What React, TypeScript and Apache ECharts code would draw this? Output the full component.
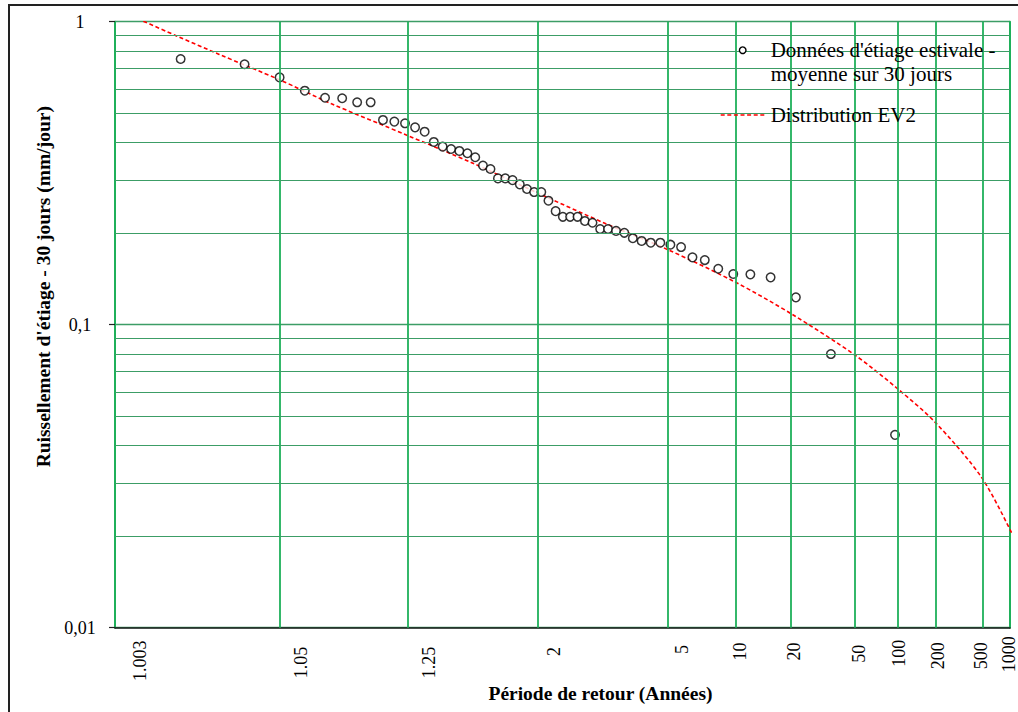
import React, { useEffect, useRef } from "react";
import * as echarts from "echarts";

// ---------- data ----------
// Observed summer low flows (30-day mean) with their plotted return periods (years)
const returnPeriods = [
  1.0105, 1.0297, 1.0497, 1.0704, 1.092, 1.1145, 1.1379, 1.1624, 1.1879, 1.2145,
  1.2424, 1.2716, 1.3022, 1.3343, 1.3681, 1.4035, 1.4409, 1.4803, 1.5219, 1.566,
  1.6126, 1.6622, 1.7148, 1.7709, 1.8309, 1.895, 1.9637, 2.0377, 2.1174, 2.2036,
  2.2971, 2.3989, 2.5102, 2.6323, 2.7669, 2.916, 3.082, 3.2681, 3.4782, 3.717,
  3.9912, 4.3089, 4.6817, 5.125, 5.6611, 6.3224, 7.1587, 8.25, 9.7338, 11.868,
  15.202, 21.141, 34.692, 96.643,
];
const flows = [
  0.753, 0.7235, 0.655, 0.592, 0.561, 0.559, 0.542, 0.542, 0.474, 0.468,
  0.462, 0.448, 0.4335, 0.401, 0.387, 0.38, 0.3745, 0.368, 0.357, 0.335,
  0.3265, 0.304, 0.304, 0.3, 0.2905, 0.2805, 0.274, 0.274, 0.2566, 0.237,
  0.227, 0.227, 0.227, 0.22, 0.217, 0.207, 0.207, 0.204, 0.201, 0.193,
  0.189, 0.1865, 0.1865, 0.1837, 0.1804, 0.1668, 0.1634, 0.153, 0.147, 0.1466,
  0.1433, 0.1231, 0.08, 0.0433,
];
// EV2 fitted distribution
const curveT = [1.003, 1.01, 1.02, 1.05, 1.1, 1.25, 1.5, 2, 3, 5, 10, 20, 50, 100, 200, 500, 1000];
const curveQ = [1.111, 0.894, 0.78, 0.642, 0.536, 0.421, 0.343, 0.272, 0.2166, 0.177, 0.138, 0.1084, 0.0794, 0.0617, 0.0475, 0.0311, 0.0195];

// axis ticks
const gridT = [1.05, 1.25, 2, 5, 10, 20, 50, 100, 200, 500];
const tickLabelT = [1.003, 1.05, 1.25, 2, 5, 10, 20, 50, 100, 200, 500, 1000];
const tickLabels = ["1.003", "1.05", "1.25", "2", "5", "10", "20", "50", "100", "200", "500", "1000"];
const yMinor = [0.02, 0.03, 0.04, 0.05, 0.06, 0.07, 0.08, 0.09, 0.2, 0.3, 0.4, 0.5, 0.6, 0.7, 0.8, 0.9];

const S1_LINES = ["Données d'étiage estivale -", "moyenne sur 30 jours"];
const S1 = S1_LINES.join("\n");
const S2 = "Distribution EV2";

// ---------- style constants ----------
const FONT = '"Liberation Serif", "Times New Roman", serif';
const V_GREEN = "#1fb05a";
const H_GREEN = "#3c9d66";
const RED = "#ff0000";
const X_MIN = -2.737; // probit-scale extent of the plot area
const X_MAX = 3.058;
const labelDx = [26.7, 21, 21.7, 16, 14, 4.7, 2.3, 3.7, 2.3, 2.8, -1.7, -6];
const labelDy = [33.1, 34.8, 34.8, 23.8, 21.7, 23.8, 23.8, 26.1, 25.6, 28.1, 28.1, 26.5];

// inverse standard normal CDF (probability paper transform)
function probit(p: number): number {
  const a = [-39.69683028665376, 220.9460984245205, -275.9285104469687, 138.357751867269, -30.66479806614716, 2.506628277459239];
  const b = [-54.47609879822406, 161.5858368580409, -155.6989798598866, 66.80131188771972, -13.28068155288572];
  const c = [-0.007784894002430293, -0.3223964580411365, -2.400758277161838, -2.549732539343734, 4.374664141464968, 2.938163982698783];
  const d = [0.007784695709041462, 0.3224671290700398, 2.445134137142996, 3.754408661907416];
  const pl = 0.02425;
  if (p < pl) {
    const q = Math.sqrt(-2 * Math.log(p));
    return (((((c[0] * q + c[1]) * q + c[2]) * q + c[3]) * q + c[4]) * q + c[5]) / ((((d[0] * q + d[1]) * q + d[2]) * q + d[3]) * q + 1);
  }
  if (p <= 1 - pl) {
    const q = p - 0.5;
    const r = q * q;
    return ((((((a[0] * r + a[1]) * r + a[2]) * r + a[3]) * r + a[4]) * r + a[5]) * q) / (((((b[0] * r + b[1]) * r + b[2]) * r + b[3]) * r + b[4]) * r + 1);
  }
  const q = Math.sqrt(-2 * Math.log(1 - p));
  return -(((((c[0] * q + c[1]) * q + c[2]) * q + c[3]) * q + c[4]) * q + c[5]) / ((((d[0] * q + d[1]) * q + d[2]) * q + d[3]) * q + 1);
}
const zOf = (T: number) => probit(1 - 1 / T);

export default function App() {
  const ref = useRef<HTMLDivElement>(null);
  useEffect(() => {
    if (!ref.current) return;
    const chart = echarts.init(ref.current, null, { renderer: "svg" });
    const vStyle = { color: V_GREEN, width: 1.8, type: "solid" as const };
    const hStyle = { color: H_GREEN, width: 1, type: "solid" as const };
    const legendFont = `21px ${FONT}`;
    const option: any = {
      animation: false,
      backgroundColor: "#fff",
      textStyle: { fontFamily: FONT },
      grid: { left: 115, right: 8, top: 21.7, bottom: 84.3, containLabel: false },
      xAxis: {
        type: "value",
        min: X_MIN,
        max: X_MAX,
        name: "Période de retour (Années)",
        nameLocation: "middle",
        nameGap: 56,
        nameTextStyle: { fontFamily: FONT, fontSize: 19.5, fontWeight: "bold", color: "#000", padding: [0, 0, 0, 76] },
        axisLine: { onZero: false, lineStyle: { color: "#1a1a1a", width: 1.5 } },
        axisTick: { show: false },
        axisLabel: { show: false },
        splitLine: { show: false },
      },
      yAxis: [
        {
          type: "log",
          logBase: 10,
          min: 0.01,
          max: 1,
          name: "Ruissellement d'étiage - 30 jours (mm/jour)",
          nameLocation: "middle",
          nameGap: 58,
          nameTextStyle: { fontFamily: FONT, fontSize: 19.5, fontWeight: "bold", color: "#000", padding: [0, 0, 0, 76] },
          axisLine: { show: true, onZero: false, lineStyle: { color: V_GREEN, width: 2 } },
          axisTick: { show: true, length: 6, lineStyle: { color: "#222", width: 1.2 } },
          axisLabel: {
            fontFamily: FONT,
            fontSize: 18,
            color: "#000",
            margin: 35,
            align: "center",
            formatter: (v: number) => String(Number(v.toPrecision(6))).replace(".", ","),
          },
          splitLine: { show: true, lineStyle: { color: H_GREEN, width: 1.4 } },
        },
        {
          type: "log",
          logBase: 10,
          min: 0.01,
          max: 1,
          position: "right",
          axisLine: { show: true, onZero: false, lineStyle: { color: V_GREEN, width: 2 } },
          axisTick: { show: false },
          axisLabel: { show: false },
          splitLine: { show: false },
        },
      ],
      graphic: {
        elements: [
          {
            type: "rect",
            id: "frame",
            z: 10,
            silent: true,
            shape: { x: 9, y: 5, width: 1200, height: 900 },
            style: { fill: "none", stroke: "#222", lineWidth: 2 },
          },
          {
            type: "group",
            id: "legend",
            z: 5,
            silent: true,
            children: [
              { type: "rect", z: 5, shape: { x: 706, y: 27, width: 301, height: 131 }, style: { fill: "#fff" } },
              { type: "circle", z: 6, shape: { cx: 742.7, cy: 50.2, r: 3.3 }, style: { fill: "#fff", stroke: "#000", lineWidth: 1.4 } },
              {
                type: "text", z: 6, x: 770.7, y: 50.2,
                style: { text: S1_LINES[0], font: legendFont, fill: "#000", align: "left", verticalAlign: "middle" },
              },
              {
                type: "text", z: 6, x: 770.7, y: 73.9,
                style: { text: S1_LINES[1], font: legendFont, fill: "#000", align: "left", verticalAlign: "middle" },
              },
              {
                type: "line", z: 6, shape: { x1: 720.7, y1: 115, x2: 765.7, y2: 115 },
                style: { stroke: RED, lineWidth: 1.6, lineDash: [4, 2.6] },
              },
              {
                type: "text", z: 6, x: 770.7, y: 114.6,
                style: { text: S2, font: legendFont, fill: "#000", align: "left", verticalAlign: "middle" },
              },
            ],
          },
        ],
      },
      series: [
        {
          name: "grid",
          type: "scatter",
          z: 1,
          data: [],
          silent: true,
          markLine: {
            silent: true,
            symbol: ["none", "none"],
            label: { show: false },
            emphasis: { disabled: true },
            data: [
              ...gridT.map((t) => ({ xAxis: zOf(t), lineStyle: vStyle })),
              ...yMinor.map((v) => ({ yAxis: v, lineStyle: hStyle })),
            ],
          },
        },
        {
          name: S2,
          type: "line",
          z: 2,
          showSymbol: false,
          symbol: "none",
          smooth: 0.3,
          clip: true,
          lineStyle: { color: RED, width: 1.6, type: [4, 2.6] },
          itemStyle: { color: RED },
          data: curveT.map((t, i) => [zOf(t), curveQ[i]]),
        },
        {
          name: S1,
          type: "scatter",
          z: 3,
          symbol: "circle",
          symbolSize: 8.5,
          itemStyle: { color: "#fff", borderColor: "#000", borderWidth: 1.5 },
          data: returnPeriods.map((t, i) => [zOf(t), flows[i]]),
        },
      ],
    };
    chart.setOption(option);

    const axisY = chart.convertToPixel({ yAxisIndex: 0 }, 0.01) as number;
    const labelEls = tickLabelT.map((t, i) => {
      const x = chart.convertToPixel({ xAxisIndex: 0 }, zOf(t)) as number;
      return {
        type: "text",
        id: "xl" + i,
        z: 10,
        silent: true,
        x: x + labelDx[i],
        y: axisY + labelDy[i],
        rotation: Math.PI / 2,
        style: {
          text: tickLabels[i],
          font: `18px ${FONT}`,
          fill: "#000",
          align: "center",
          verticalAlign: "middle",
        },
      };
    });
    chart.setOption({ graphic: { elements: labelEls } });

    return () => chart.dispose();
  }, []);
  return <div ref={ref} style={{ position: "absolute", left: 0, top: 0, width: 1018, height: 712 }} />;
}
